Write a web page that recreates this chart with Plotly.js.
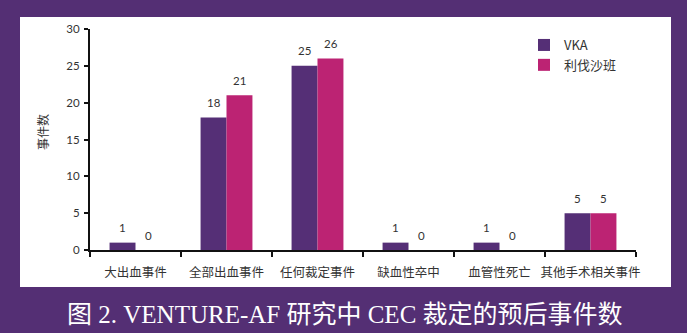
<!DOCTYPE html>
<html>
<head>
<meta charset="utf-8">
<script src="https://cdn.plot.ly/plotly-3.0.1.min.js"></script>
<style>
html,body{margin:0;padding:0;background:#542f74;}
#chart{width:687px;height:333px;}
</style>
</head>
<body>
<div id="chart"></div>
<script>
const categories = ["大出血事件","全部出血事件","任何裁定事件","缺血性卒中","血管性死亡","其他手术相关事件"];
const vkaValues = [1,18,25,1,1,5];
const rivaValues = [0,21,26,0,0,5];
const seriesNames = ["VKA","利伐沙班"];
const yTicks = [0,5,10,15,20,25,30];
const yTitle = "事件数";
const figTitle = "图 2. VENTURE-AF 研究中 CEC 裁定的预后事件数";

const purple = "#542f74";
const vkaColor = "#552f76";
const rivaColor = "#bc2373";
const txt = "#333333";
const numFont = {family: "Lato, 'Open Sans', sans-serif", size: 11.5, color: txt};

const traces = [
  {type:"bar", name: seriesNames[0], x: categories, y: vkaValues, marker:{color: vkaColor}, hoverinfo:"none"},
  {type:"bar", name: seriesNames[1], x: categories, y: rivaValues, marker:{color: rivaColor}, hoverinfo:"none"}
];

const annotations = [];
categories.forEach((c,i)=>{
  annotations.push({x:c, y:vkaValues[i], xref:"x", yref:"y", text:String(vkaValues[i]), showarrow:false,
    xshift:-13, yshift:15, yanchor:"middle", font:numFont});
  annotations.push({x:c, y:rivaValues[i], xref:"x", yref:"y", text:String(rivaValues[i]), showarrow:false,
    xshift:13, yshift:15, yanchor:"middle", font:numFont});
});
annotations.push({xref:"paper", yref:"paper", x:(42-90)/546, y:(250-132)/221, text:yTitle, textangle:-90,
  xanchor:"center", yanchor:"middle",
  showarrow:false, font:{family:"'Noto Sans CJK SC', sans-serif", size:12, color:txt}});
annotations.push({xref:"paper", yref:"paper", x:(344.5-90)/546, y:(250-314)/221, text:figTitle,
  xanchor:"center", yanchor:"middle",
  showarrow:false, font:{family:"'Liberation Serif', 'Noto Sans CJK SC', serif", size:25, color:"#ffffff"}});

const layout = {
  width:687, height:333,
  margin:{l:90, r:51, t:29, b:83, pad:0},
  paper_bgcolor: purple,
  plot_bgcolor: "#ffffff",
  barmode:"group",
  bargap:0.43,
  bargroupgap:0,
  showlegend:true,
  legend:{x:(524-90)/546, y:(250-30)/221, xanchor:"left", yanchor:"top", bgcolor:"rgba(0,0,0,0)",
    font:{family:"'Noto Sans CJK SC', sans-serif", size:13, color:txt}, tracegroupgap:0},
  xaxis:{type:"category", tickson:"boundaries", ticks:"outside", ticklen:5, tickwidth:2, tickcolor:"#111",
    showline:true, linewidth:2, linecolor:"#111", showgrid:false, zeroline:false, fixedrange:true, tickangle:0,
    tickfont:{family:"'Noto Sans CJK SC', sans-serif", size:12.5, color:txt}, ticklabelstandoff:10},
  yaxis:{range:[0,30], tickvals:yTicks, ticktext:yTicks.map(String), ticks:"outside", ticklen:4, tickwidth:2, tickcolor:"#111",
    showline:true, linewidth:2, linecolor:"#111", showgrid:false, zeroline:false, fixedrange:true,
    tickfont:numFont, ticklabelstandoff:2},
  shapes:[{type:"rect", xref:"paper", yref:"paper", layer:"below",
    x0:(20-90)/546, x1:(671-90)/546, y0:(250-287)/221, y1:(250-17)/221,
    fillcolor:"#ffffff", line:{width:0}}],
  annotations: annotations
};

Plotly.newPlot("chart", traces, layout, {displayModeBar:false, staticPlot:true});
</script>
</body>
</html>
